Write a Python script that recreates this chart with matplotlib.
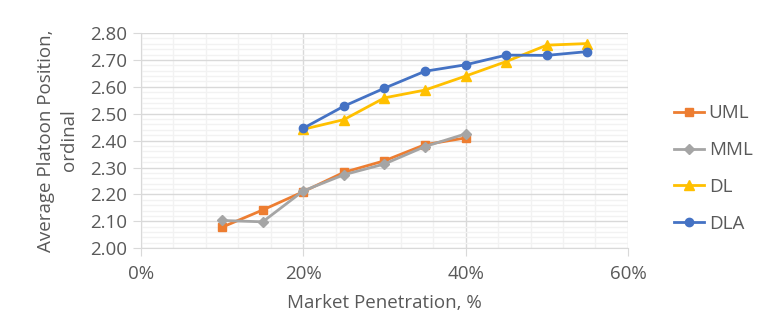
import numpy as np
import matplotlib
matplotlib.use("Agg")
import matplotlib.pyplot as plt
from matplotlib.ticker import MultipleLocator, PercentFormatter

plt.rcParams['font.family'] = ['Open Sans', 'DejaVu Sans']

# market penetration (fraction)
x_uml = [0.10, 0.15, 0.20, 0.25, 0.30, 0.35, 0.40]
y_uml = [2.078, 2.142, 2.210, 2.282, 2.325, 2.385, 2.410]

x_mml = [0.10, 0.15, 0.20, 0.25, 0.30, 0.35, 0.40]
y_mml = [2.103, 2.098, 2.213, 2.273, 2.313, 2.378, 2.425]

x_dl = [0.20, 0.25, 0.30, 0.35, 0.40, 0.45, 0.50, 0.55]
y_dl = [2.442, 2.478, 2.559, 2.588, 2.640, 2.694, 2.755, 2.761]

x_dla = [0.20, 0.25, 0.30, 0.35, 0.40, 0.45, 0.50, 0.55]
y_dla = [2.446, 2.528, 2.595, 2.658, 2.682, 2.718, 2.717, 2.731]

txt = '#595959'
fs = 13.5

fig = plt.figure(figsize=(7.62, 3.34), dpi=100)
ax = fig.add_axes([0.185, 0.257, 0.639, 0.644])

ax.plot(x_uml, y_uml, color='#ED7D31', marker='s', ms=6, lw=2, label='UML', zorder=3)
ax.plot(x_mml, y_mml, color='#A5A5A5', marker='D', ms=5, lw=2, label='MML', zorder=3)
ax.plot(x_dl, y_dl, color='#FFC000', marker='^', ms=7, lw=2, label='DL', zorder=3)
ax.plot(x_dla, y_dla, color='#4472C4', marker='o', ms=6, lw=2, label='DLA', zorder=3)

ax.set_xlim(0, 0.6)
ax.set_ylim(2.0, 2.8)
ax.xaxis.set_major_locator(MultipleLocator(0.2))
ax.xaxis.set_minor_locator(MultipleLocator(0.04))
ax.yaxis.set_major_locator(MultipleLocator(0.1))
ax.yaxis.set_minor_locator(MultipleLocator(0.02))
ax.xaxis.set_major_formatter(PercentFormatter(1.0, decimals=0))
ax.yaxis.set_major_formatter(plt.FormatStrFormatter('%.2f'))

ax.grid(which='major', color='#D9D9D9', lw=1)
ax.grid(which='minor', color='#F2F2F2', lw=1)
ax.set_axisbelow(True)

for s in ['top', 'right']:
    ax.spines[s].set_visible(False)
for s in ['left', 'bottom']:
    ax.spines[s].set_color('#D9D9D9')

ax.tick_params(which='major', colors='#D9D9D9', labelcolor=txt, labelsize=fs, length=6)
ax.tick_params(which='minor', length=0)
ax.tick_params(axis='x', pad=6)
ax.tick_params(axis='y', pad=4)

ax.set_xlabel('Market Penetration, %', fontsize=fs, color=txt, labelpad=8)
ax.set_ylabel('Average Platoon Position,\nordinal', fontsize=fs, color=txt, labelpad=9,
              linespacing=1.35)

ax.legend(loc='center left', bbox_to_anchor=(1.06, 0.37), frameon=False,
          fontsize=fs, labelcolor=txt, handlelength=1.6, labelspacing=1.0,
          handletextpad=0.25)

fig.savefig('out.png', dpi=100)
